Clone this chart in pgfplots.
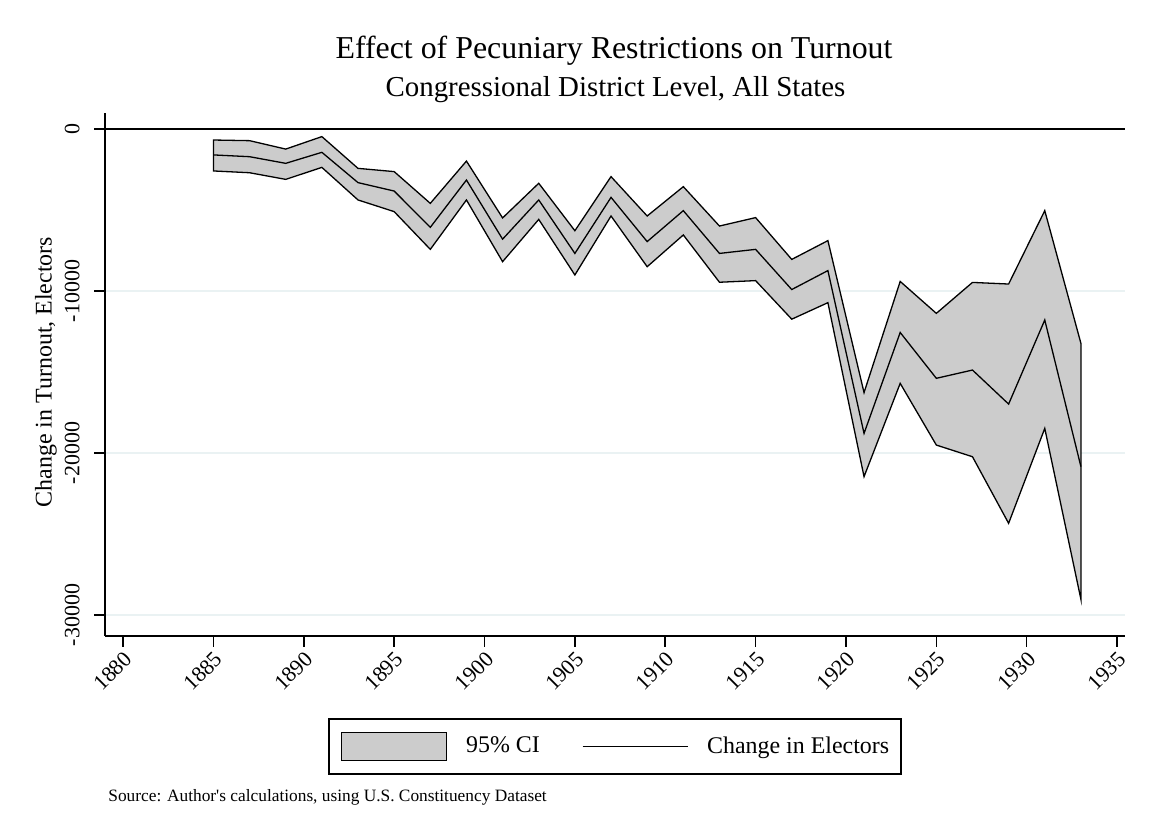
\documentclass[border=0pt]{standalone}
\usepackage{fontspec}
\setmainfont{Liberation Serif}
\usepackage{pgfplots}
\pgfplotsset{compat=1.18}
\usepackage{pgfplotstable}
\usepgfplotslibrary{fillbetween}

\definecolor{cigray}{RGB}{204,204,204}
\definecolor{gridc}{RGB}{234,242,243}

% estimates by election year: lower CI, point estimate, upper CI
\pgfplotstableread{
year lo mid hi
1885 -2590 -1600 -680
1887 -2700 -1710 -720
1889 -3110 -2120 -1240
1891 -2370 -1440 -470
1893 -4380 -3310 -2430
1895 -5100 -3830 -2630
1897 -7430 -6070 -4590
1899 -4380 -3150 -1980
1901 -8190 -6800 -5490
1903 -5580 -4380 -3350
1905 -9010 -7680 -6280
1907 -5370 -4220 -2940
1909 -8500 -6950 -5370
1911 -6540 -5040 -3560
1913 -9460 -7680 -5990
1915 -9360 -7430 -5470
1917 -11740 -9910 -8050
1919 -10720 -8740 -6890
1921 -21460 -18790 -16270
1923 -15700 -12560 -9410
1925 -19510 -15390 -11380
1927 -20230 -14880 -9470
1929 -24340 -16980 -9570
1931 -18480 -11790 -5040
1933 -29030 -20840 -13230
}\turnout

\begin{document}
\begin{tikzpicture}
\begin{axis}[
  at={(52.5bp,101.5bp)}, anchor=south west,
  scale only axis, width=510bp, height=261.5bp,
  xmin=1879, xmax=1935.44, ymin=-31296, ymax=988,
  axis x line=bottom, axis y line=left,
  axis line style={-, line width=0.75bp},
  tick align=outside, major tick length=5.5bp,
  tick style={black, line width=0.75bp},
  scaled y ticks=false,
  xtick={1880,1885,1890,1895,1900,1905,1910,1915,1920,1925,1930,1935},
  xticklabels={1880,1885,1890,1895,1900,1905,1910,1915,1920,1925,1930,1935},
  ytick={-30000,-20000,-10000,0},
  yticklabels={-30000,-20000,-10000,0},
  ymajorgrids, grid style={gridc, line width=0.75bp},
  x tick label style={rotate=45, anchor=north east, inner sep=1bp,
    font=\fontsize{11}{13}\selectfont},
  y tick label style={rotate=90, anchor=south, inner sep=0bp, yshift=7bp,
    font=\fontsize{11}{13}\selectfont},
  legend style={at={(0.5,-0.1568)}, anchor=north, draw=black,
    line width=0.75bp, inner xsep=6bp, inner ysep=6.5bp,
    font=\fontsize{12}{14}\selectfont, nodes={inner sep=0bp},
    /tikz/every odd column/.append style={column sep=9.5bp},
    /tikz/every even column/.append style={column sep=21bp}},
  legend columns=2, legend cell align=left,
]
  \addplot[draw=none, name path=hi, forget plot] table[x=year, y=hi] {\turnout};
  \addplot[draw=none, name path=lo, forget plot] table[x=year, y=lo] {\turnout};
  \addplot[fill=cigray, draw=black, line width=0.65bp,
    legend image code/.code={\draw[fill=cigray, draw=black, line width=0.65bp]
      (0bp,-7bp) rectangle (52.5bp,7bp);}]
    fill between[of=hi and lo];
  \addlegendentry{95\% CI}
  \draw[black, line width=0.75bp] ({rel axis cs:0,0}|-{axis cs:1900,0}) -- ({rel axis cs:1,0}|-{axis cs:1900,0});
  \addplot[black, line width=0.65bp,
    legend image code/.code={\draw[black, line width=0.65bp] (0bp,0bp) -- (52.5bp,0bp);}]
    table[x=year, y=mid] {\turnout};
  \addlegendentry{Change in Electors}
\end{axis}
\node[anchor=base, inner sep=0] at (307bp,390.35bp) {\fontsize{16}{19}\selectfont Effect of Pecuniary Restrictions on Turnout};
\node[anchor=base, inner sep=0] at (307.75bp,371.15bp) {\fontsize{14.5}{17}\selectfont Congressional District Level, All States};
\node[rotate=90, inner sep=0] at (23bp,233.5bp) {\fontsize{12}{14}\selectfont Change in Turnout, Electors};
\node[anchor=west, inner sep=0] at (54bp,21bp) {\fontsize{8.7}{10}\selectfont Source: Author\textquotesingle s calculations, using U.S. Constituency Dataset};
\path (0bp,0bp) rectangle (576bp,419.5bp);
\end{tikzpicture}
\end{document}
